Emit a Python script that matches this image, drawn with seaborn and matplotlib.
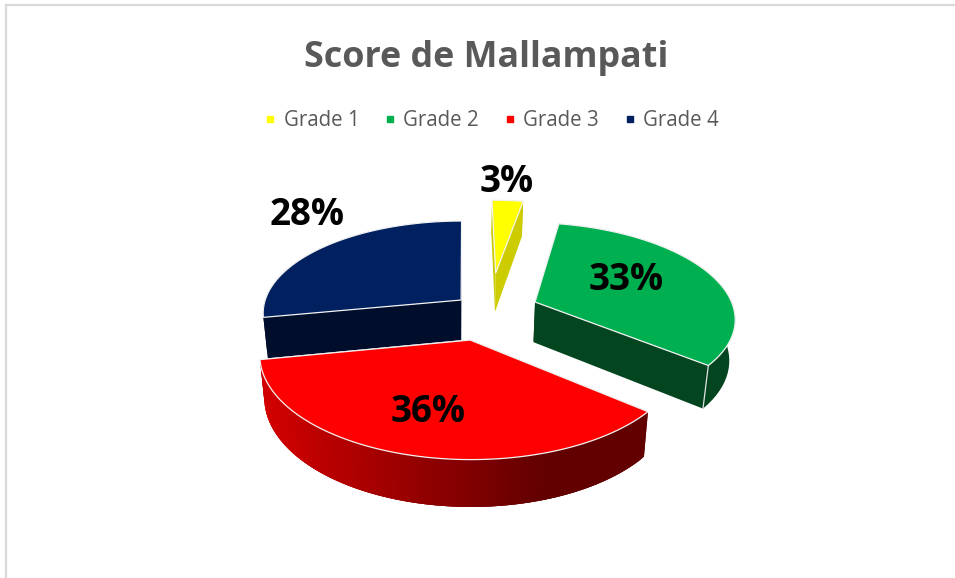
import numpy as np
import matplotlib
matplotlib.use("Agg")
import matplotlib.pyplot as plt
from matplotlib.lines import Line2D
import seaborn as sns

# ---------- data ----------
categories = ["Grade 1", "Grade 2", "Grade 3", "Grade 4"]
values = [3, 33, 36, 28]
labels = ["3%", "33%", "36%", "28%"]

# ---------- styles ----------
top_colors = ["#ffff00", "#00b050", "#ff0000", "#002060"]
side_colors = ["#cccc00", "#03451f", None, "#000d2b"]
explode_u = [33, 72, 5, -4]          # slice offset across the pie plane
explode_v = [0.528, 0.193, -0.203, 0.215]   # slice offset into the pie plane
label_xy = [(507, 182), (626, 280), (428, 412), (307, 215)]
draw_order = [3, 0, 1, 2]

R = 202
XC, YC = 465, 320
RY = 95.8
PERSP = 0.145
H = 41
LOW = 0.978

sns.set_theme(style="white")
plt.rcParams["font.family"] = ["Open Sans", "DejaVu Sans"]


def project(u, v, low=False):
    # perspective view of the pie plane, low=True gives the underside
    k = 1 / (1 + PERSP * v)
    x = XC + u * k
    y = YC - RY * v * k
    if low:
        x = XC + (x - XC) * LOW
        y = y + H * k ** 0.75
    return x, y


def slice_outline(i, th):
    return explode_u[i] + R * np.sin(th), explode_v[i] + np.cos(th)


fig = plt.figure(figsize=(9.55, 5.78), dpi=100)
ax = fig.add_axes([6 / 955, 0, 949 / 955, 573 / 578])
ax.set_xlim(6, 955)
ax.set_ylim(578, 5)
ax.set_xticks([])
ax.set_yticks([])
sns.despine(ax=ax, top=False, right=True, bottom=True)
for s in ["left", "top"]:
    ax.spines[s].set_color("#d9d9d9")
    ax.spines[s].set_linewidth(1.6)

fracs = np.array(values) / sum(values)
edges = np.concatenate([[0], np.cumsum(fracs)]) * 2 * np.pi
red_side = sns.blend_palette(["#d20000", "#620000"], 60)

for i in draw_order:
    th = np.linspace(edges[i], edges[i + 1], 120)
    us, vs = slice_outline(i, th)
    au, av = explode_u[i], explode_v[i]
    base = side_colors[i] if side_colors[i] else "#620000"

    # cut faces
    for e in [0, -1]:
        xa, ya = project(au, av)
        xb, yb = project(us[e], vs[e])
        xc, yc = project(us[e], vs[e], low=True)
        xd, yd = project(au, av, low=True)
        ax.fill([xa, xb, xc, xd], [ya, yb, yc, yd], color=base, lw=0, zorder=2 + i * 0.01)

    # outer wall
    xt, yt = project(us, vs)
    xl, yl = project(us, vs, low=True)
    if side_colors[i]:
        ax.fill(np.r_[xt, xl[::-1]], np.r_[yt, yl[::-1]], color=side_colors[i], lw=0,
                zorder=2 + i * 0.01)
    else:
        # quads overlap the next few so no seams show in the gradient
        for j in range(len(th) - 1):
            t = np.clip((xt[j] - 262) / (545 - 262), 0, 1)
            end = min(j + 4, len(th))
            ax.fill(np.r_[xt[j:end], xl[j:end][::-1]], np.r_[yt[j:end], yl[j:end][::-1]],
                    color=red_side[int(t * 59)], lw=0, zorder=2 + i * 0.01)

    # top face
    xa, ya = project(au, av)
    ax.fill(np.r_[xa, xt], np.r_[ya, yt], facecolor=top_colors[i], edgecolor="#f2f2f2",
            lw=0.9, zorder=3 + i * 0.01)

    # light vertical corner on the green slice
    if i == 1:
        ax.plot([xt[-1], xl[-1]], [yt[-1], yl[-1]], color="#e0e0e0", lw=0.9, zorder=3.5)

for lab, (x, y) in zip(labels, label_xy):
    ax.text(x, y, lab, fontsize=26.5, fontweight="bold", color="black",
            ha="center", va="center", zorder=6)

ax.text(486.5, 57.5, "Score de Mallampati", fontsize=25.8, fontweight="bold", color="#595959",
        ha="center", va="center")

handles = [Line2D([], [], linestyle="none", marker="s", markersize=5, color=c,
                  label=n) for c, n in zip(top_colors, categories)]
leg = ax.legend(handles=handles, ncol=4, frameon=False, loc="center",
                bbox_to_anchor=(489.5 / 955, 1 - 121 / 578), bbox_transform=fig.transFigure,
                fontsize=14.8, labelcolor="#595959", handletextpad=0.15, columnspacing=1.0,
                handlelength=1.0)

fig.savefig("out.png", dpi=100)
